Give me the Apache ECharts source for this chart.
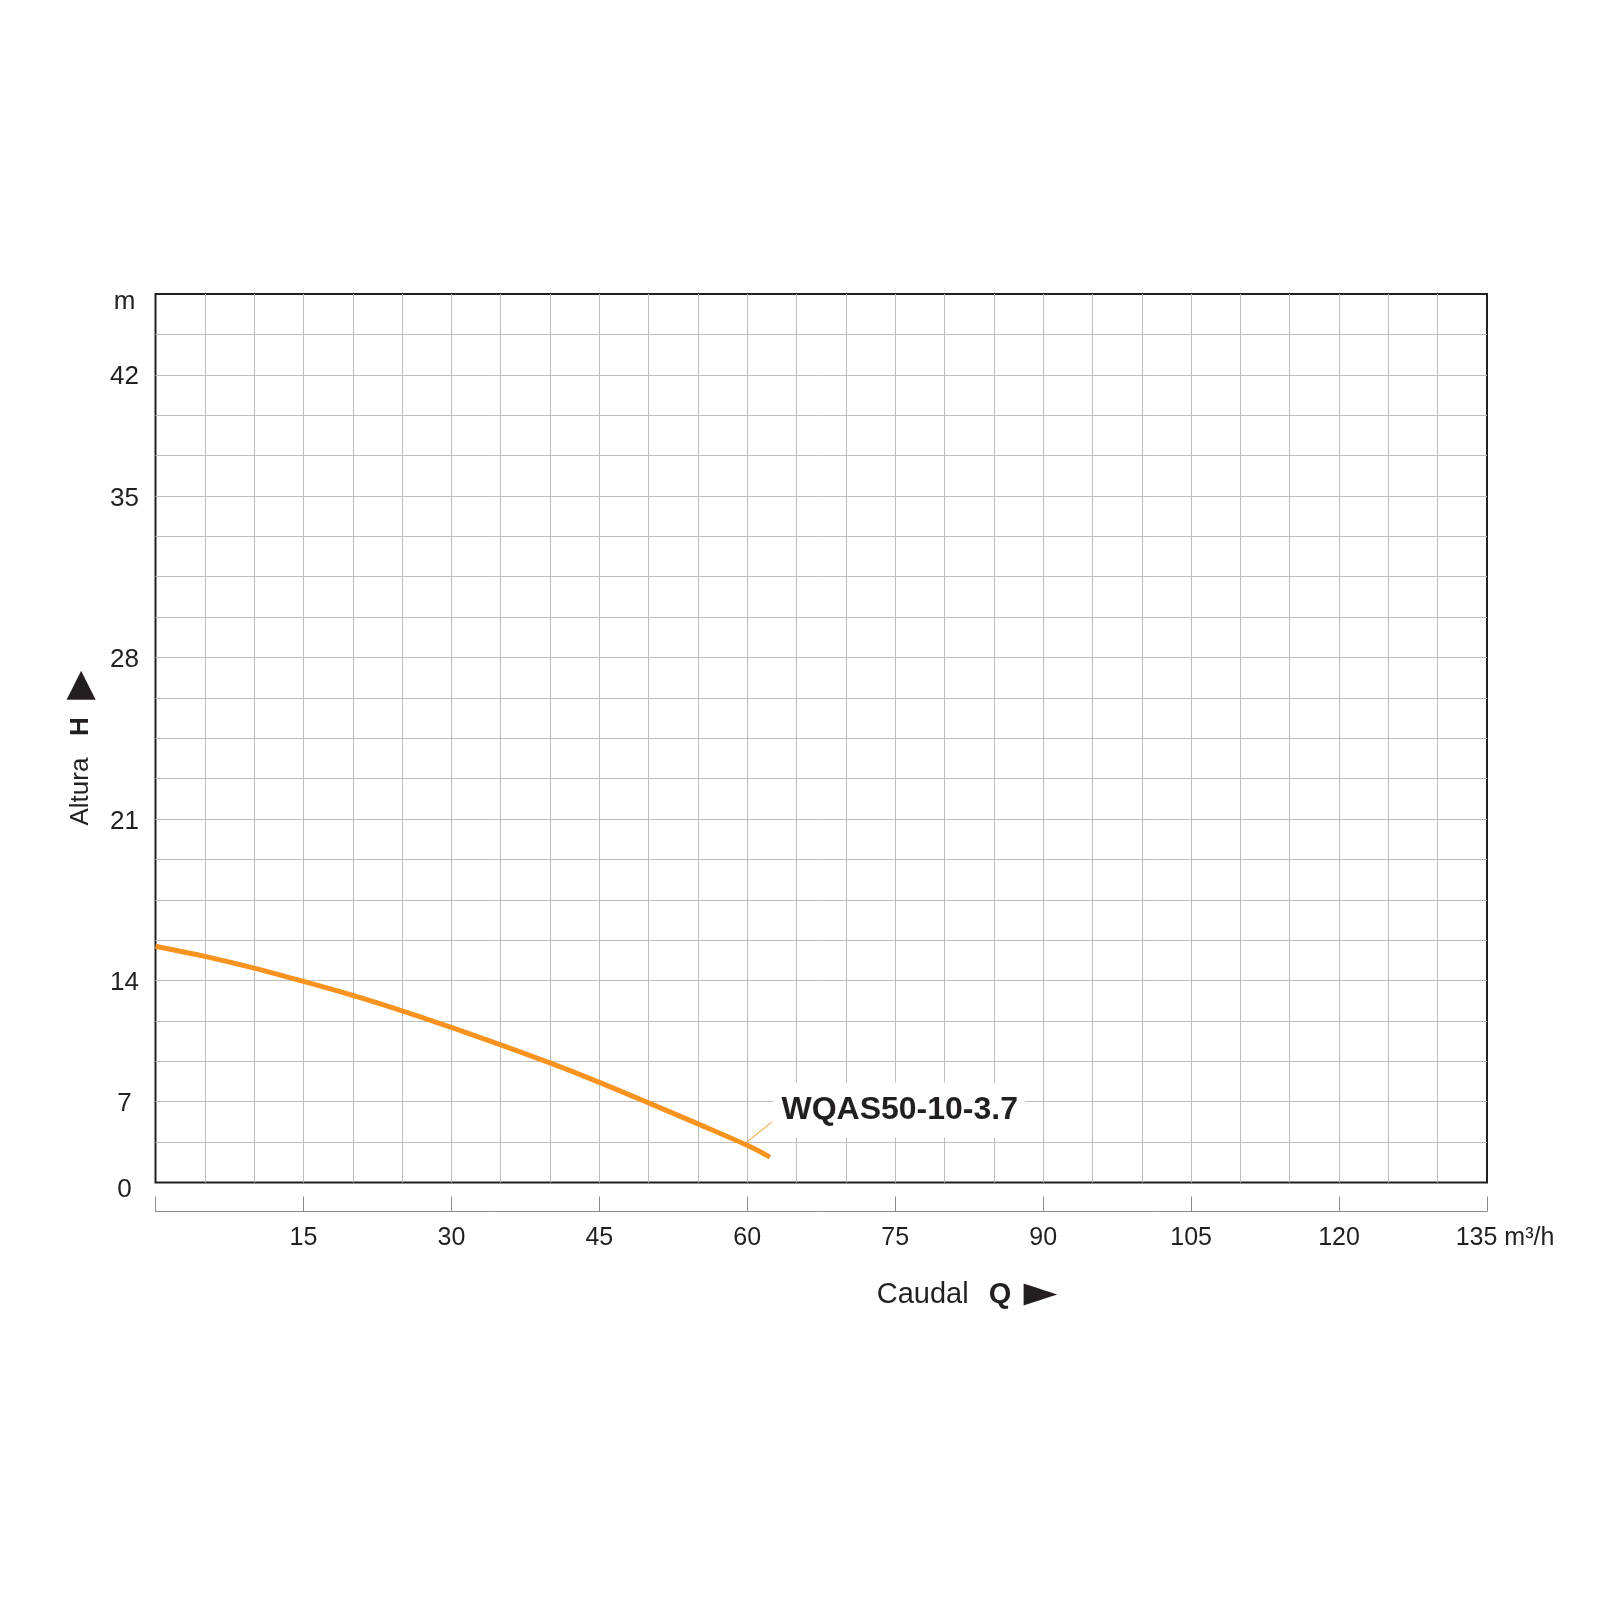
<!DOCTYPE html>
<html>
<head>
<meta charset="utf-8">
<title>WQAS50-10-3.7</title>
<script src="https://cdn.jsdelivr.net/npm/echarts@6/dist/echarts.min.js"></script>
<style>
	html, body {margin: 0; padding: 0; background: #fff;}
	#main {width: 1600px; height: 1600px;}
</style>
</head>
<body>
<div id="main"></div>
<script>
// curva: caudal Q (m3/h) y altura H (m)
var caudal = [0, 5, 10, 15, 20, 25, 30, 35, 40, 45, 50, 55, 60, 62.3];
var altura = [15.49, 15.05, 14.54, 13.95, 13.14, 12.25, 11.29, 10.29, 9.24, 8.12, 6.9, 5.08, 3.22, 2.2];

// etiquetas del eje H y la línea de cuadrícula (0..22) donde aparece cada una
var hLabels = [0, 7, 14, 21, 28, 35, 42];
var hLines = [0, 2, 5, 9, 13, 17, 20];
var hUnitLine = 22;

var qMax = 135;
var qStep = 15;

var modelName = 'WQAS50-10-3.7';
var guideFrom = [59.8, 3.4];   // punto sobre la curva
var guideTo = [62.5, 5.25];    // punta de la línea guía, junto al rótulo

var font = "'Liberation Sans', Arial, Helvetica, sans-serif";
var ink = '#231f20';
var orange = '#f7931e';
var gridGray = '#bdbdbd';

// la escala de H del original no es lineal: se pasa de metros a línea de cuadrícula
function toLine(h) {
	for (var i = 1; i < hLabels.length; i++) {
		if (h <= hLabels[i] || i === hLabels.length - 1) {
			var t = (h - hLabels[i - 1]) / (hLabels[i] - hLabels[i - 1]);
			return hLines[i - 1] + t * (hLines[i] - hLines[i - 1]);
		}
	}
}

window.onload = function () {
	var curve = caudal.map(function (q, i) { return [q, toLine(altura[i])]; });

	var options = {
		animation: false,
		backgroundColor: '#fff',
		grid: {
			show: true,
			left: 155.5,
			right: 113,
			top: 294,
			bottom: 417.5,
			borderColor: ink,
			borderWidth: 2,
			backgroundColor: 'transparent'
		},
		xAxis: [
			{
				type: 'value',
				min: 0,
				max: qMax,
				interval: 5,
				position: 'bottom',
				axisLine: {show: false},
				axisTick: {show: false},
				axisLabel: {show: false},
				splitLine: {show: true, showMinLine: false, showMaxLine: false, lineStyle: {color: gridGray, width: 1}}
			},
			{
				type: 'value',
				min: 0,
				max: qMax,
				interval: qStep,
				position: 'bottom',
				offset: 29,
				axisLine: {show: true, lineStyle: {color: '#8c8c8c', width: 1}},
				axisTick: {show: true, inside: true, length: 15, lineStyle: {color: '#8c8c8c', width: 1}},
				splitLine: {show: false},
				axisLabel: {
					margin: 14,
					fontSize: 25,
					color: ink,
					fontFamily: font,
					formatter: function (v) {
						if (v === 0) return '';
						if (v === qMax) return '{last|' + v + ' m³/h}';
						return v;
					},
					rich: {
						last: {fontSize: 25, color: ink, fontFamily: font, padding: [0, 0, 0, 36]}
					}
				}
			}
		],
		yAxis: {
			type: 'value',
			min: 0,
			max: hUnitLine,
			interval: 1,
			axisLine: {show: false},
			axisTick: {show: false},
			splitLine: {show: true, showMinLine: false, showMaxLine: false, lineStyle: {color: gridGray, width: 1}},
			axisLabel: {
				align: 'center',
				margin: 31,
				fontSize: 26,
				color: ink,
				fontFamily: font,
				padding: [5, 0, 0, 0],
				formatter: function (v) {
					if (v === hUnitLine) return '{low|m}';
					var i = hLines.indexOf(v);
					if (i < 0) return '';
					if (hLabels[i] === 0) return '{low|0}';
					return hLabels[i];
				},
				rich: {
					low: {fontSize: 26, color: ink, fontFamily: font, padding: [10, 0, 0, 0]}
				}
			}
		},
		series: [
			{
				type: 'line',
				data: curve,
				smooth: 0.3,
				symbol: 'none',
				lineStyle: {color: orange, width: 5, cap: 'butt'},
				markLine: {
					silent: true,
					symbol: ['none', 'none'],
					label: {show: false},
					lineStyle: {color: orange, width: 1, type: 'solid'},
					data: [[
						{coord: [guideFrom[0], toLine(guideFrom[1])]},
						{coord: [guideTo[0], toLine(guideTo[1])]}
					]]
				},
				markPoint: {
					silent: true,
					symbol: 'circle',
					symbolSize: 1,
					itemStyle: {color: 'rgba(0,0,0,0)'},
					label: {
						show: true,
						position: 'right',
						distance: 1,
						offset: [0, -12],
						formatter: modelName,
						fontSize: 32,
						fontWeight: 'bold',
						fontFamily: font,
						color: ink,
						backgroundColor: '#fff',
						padding: [13, 7, 10, 8]
					},
					data: [{coord: [guideTo[0], toLine(guideTo[1])]}]
				}
			}
		],
		graphic: [
			{
				type: 'text',
				x: 967,
				y: 1295,
				style: {
					text: 'Caudal  {q|Q} {t|►}',
					fontSize: 29,
					fontFamily: font,
					fill: ink,
					align: 'center',
					verticalAlign: 'middle',
					rich: {
						q: {fontSize: 29, fontWeight: 'bold', fontFamily: font, fill: ink, padding: [0, 4, 0, 4]},
						t: {fontSize: 44, fontFamily: "'DejaVu Sans', sans-serif", fill: ink}
					}
				}
			},
			{
				type: 'text',
				x: 81,
				y: 748,
				rotation: Math.PI / 2,
				style: {
					text: 'Altura   {h|H}  {t|▶}',
					fontSize: 26,
					fontFamily: font,
					fill: ink,
					align: 'center',
					verticalAlign: 'middle',
					rich: {
						h: {fontSize: 26, fontWeight: 'bold', fontFamily: font, fill: ink, padding: [0, 3, 0, 0]},
						t: {fontSize: 38, fontFamily: "'DejaVu Sans', sans-serif", fill: ink}
					}
				}
			}
		]
	};

	var myChart = echarts.init(document.getElementById('main'));
	myChart.setOption(options);
};
</script>
</body>
</html>
